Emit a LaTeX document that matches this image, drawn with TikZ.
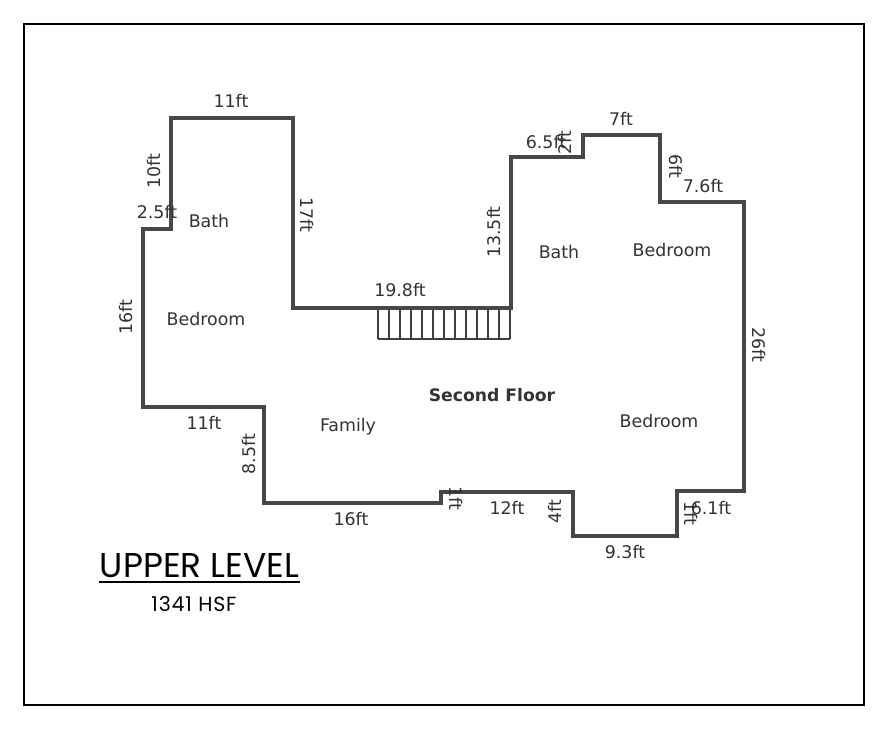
\documentclass[tikz,border=0pt]{standalone}
\usepackage{fontspec}
\setmainfont{DejaVu Sans}
\newfontfamily\titlefont{Poppins}
\newfontfamily\areafont[LetterSpace=4]{Poppins}
\usetikzlibrary{
    positioning,
    calc,
}

\begin{document}
\begin{tikzpicture}[
    x=1pt, y=-1pt,
    frame/.style={draw=black, line width=2pt},
    wall/.style={draw=black!72, line width=3.4pt, line join=miter},
    tread/.style={draw=black!75, line width=1.1pt},
    dim/.style={inner sep=0pt, text=black!80, font=\fontsize{17.4}{19}\selectfont},
    dimrot/.style={dim, rotate=-90},
    dimup/.style={dim, rotate=90},
    room/.style={inner sep=0pt, text=black!80, font=\fontsize{17.4}{19}\selectfont},
]

\useasboundingbox (0,0) rectangle (892,731);
\fill[white] (0,0) rectangle (892,731);
\draw[frame] (24,24) rectangle (864,705);

% stairs
\foreach \i in {0,...,12} {
    \draw[tread] ({378+\i*11},308) -- ({378+\i*11},339);
}
\draw[tread] (378,339) -- (510,339);

% outer walls
\draw[wall] (171,118) -- (293,118) -- (293,308) -- (511,308) -- (511,157)
    -- (583,157) -- (583,135) -- (660,135) -- (660,202) -- (744,202)
    -- (744,491) -- (677,491) -- (677,536) -- (573,536) -- (573,492)
    -- (441,492) -- (441,503) -- (264,503) -- (264,407) -- (143,407)
    -- (143,229) -- (171,229) -- cycle;

% dimensions
\node[dim] (d11top) at (231,101) {11ft};
\node[dimup] (d10) at (154,171) {10ft};
\node[dim] (d25) at (157,212) {2.5ft};
\node[dimrot] (d17) at (307,215) {17ft};
\node[dimup] (d16) at (126,317) {16ft};
\node[dim] (d11low) at (204,423) {11ft};
\node[dimup] (d85) at (249,454) {8.5ft};
\node[dim] (d16low) at (351,519) {16ft};
\node[dimrot] (d1a) at (456,498) {1ft};
\node[dim] (d12) at (507,508) {12ft};
\node[dimup] (d4) at (555,512) {4ft};
\node[dim] (d93) at (625,552) {9.3ft};
\node[dimrot] (d1b) at (691,513) {1ft};
\node[dim] (d61) at (711,508) {6.1ft};
\node[dimrot] (d26) at (759,345) {26ft};
\node[dim] (d76) at (703,186) {7.6ft};
\node[dimrot] (d6) at (676,166) {6ft};
\node[dim] (d7) at (621,119) {7ft};
\node[dim] (d65) at (546,142) {6.5ft};
\node[dimup] (d2) at (565,143) {2ft};
\node[dimup] (d135) at (494,232) {13.5ft};
\node[dim] (d198) at (400,290) {19.8ft};

% rooms
\node[room] (bath1) at (209,221) {Bath};
\node[room] (bed1) at (206,319) {Bedroom};
\node[room] (bath2) at (559,252) {Bath};
\node[room] (bed2) at (672,250) {Bedroom};
\node[room] (family) at (348,427) {Family};
\node[room] (bed3) at (659,421) {Bedroom};
\node[inner sep=0pt, text=black!80, font=\fontsize{17.2}{19}\selectfont\bfseries] (floor) at (492,395) {Second Floor};

% title
\node[inner sep=0pt, font=\titlefont\fontsize{34.4}{36}\selectfont] (title) at (199.5,566) {UPPER LEVEL};
\draw[line width=2.2pt] (99,582) -- (300,582);
\node[inner sep=0pt, font=\areafont\fontsize{20.5}{22}\selectfont] (area) at (194,604) {1341 HSF};

\end{tikzpicture}
\end{document}
